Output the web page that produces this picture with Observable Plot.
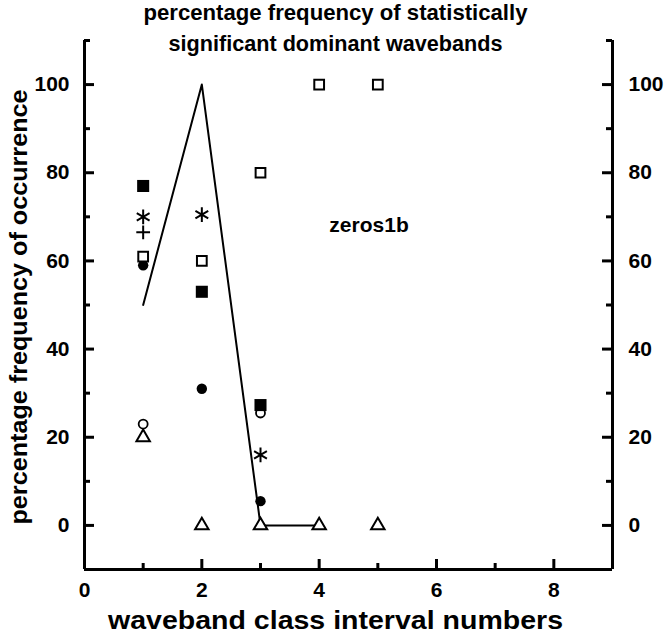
<!DOCTYPE html>
<html>
<head>
<meta charset="utf-8">
<script src="https://cdn.jsdelivr.net/npm/d3@7"></script>
<script src="https://cdn.jsdelivr.net/npm/@observablehq/plot@0.6"></script>
<style>
  html, body { margin: 0; padding: 0; background: #fff; }
</style>
</head>
<body>
<div id="chart"></div>
<script>
// ---- data ----
const titleLines = ["percentage frequency of statistically", "significant dominant wavebands"];
const xLabel = "waveband class interval numbers";
const yLabel = "percentage frequency of occurrence";
const annotation = "zeros1b";

const xMajorTicks = [2, 4, 6, 8];
const xTickLabels = [0, 2, 4, 6, 8];
const xMinorTicks = [1, 3, 5, 7];
const yMajorTicks = [0, 20, 40, 60, 80, 100];
const yMinorTicks = [-10, 10, 30, 50, 70, 90, 110];

const lineX = [1, 2, 3, 4];
const lineY = [50, 100, 0, 0];

const filledSquareX = [1, 2, 3];
const filledSquareY = [77, 53, 27.3];
const openSquareX = [1, 2, 3, 4, 5];
const openSquareY = [61, 60, 80, 100, 100];
const asteriskX = [1, 2, 3];
const asteriskY = [70, 70.5, 16];
const plusX = [1];
const plusY = [66.5];
const filledCircleX = [1, 2, 3];
const filledCircleY = [59, 31, 5.5];
const openCircleX = [1, 3];
const openCircleY = [23, 25.5];
const triangleX = [1, 2, 3, 4, 5];
const triangleY = [20, 0, 0, 0, 0];

// ---- layout ----
const W = 665, H = 637;
const mL = 84, mR = 53, mT = 40, mB = 68;
const fw = W - mL - mR, fh = H - mT - mB;
const major = 10, minor = 6;

const pts = (xs, ys) => xs.map((x, i) => ({x, y: ys[i]}));

const chart = Plot.plot({
  width: W,
  height: H,
  marginLeft: mL,
  marginRight: mR,
  marginTop: mT,
  marginBottom: mB,
  style: {fontFamily: "'Liberation Sans', Arial, sans-serif", fontWeight: "bold", fontSize: "21px", color: "#000", background: "#fff"},
  x: {domain: [0, 9], axis: null},
  y: {domain: [-10, 110], axis: null},
  marks: [
    // axis lines (left, right, bottom)
    Plot.ruleX([0, 9], {stroke: "#000", strokeWidth: 3}),
    Plot.ruleY([-10], {stroke: "#000", strokeWidth: 3}),
    // y ticks inward, left
    Plot.tickY(yMajorTicks, {y: d => d, stroke: "#000", strokeWidth: 3, insetRight: fw - major}),
    Plot.tickY(yMinorTicks, {y: d => d, stroke: "#000", strokeWidth: 3, insetRight: fw - minor}),
    // y ticks inward, right
    Plot.tickY(yMajorTicks, {y: d => d, stroke: "#000", strokeWidth: 3, insetLeft: fw - major}),
    Plot.tickY(yMinorTicks, {y: d => d, stroke: "#000", strokeWidth: 3, insetLeft: fw - minor}),
    // x ticks inward, bottom
    Plot.tickX(xMajorTicks, {x: d => d, stroke: "#000", strokeWidth: 3, insetTop: fh - major}),
    Plot.tickX(xMinorTicks, {x: d => d, stroke: "#000", strokeWidth: 3, insetTop: fh - minor}),
    // tick labels
    Plot.axisY(yMajorTicks, {anchor: "left", tickSize: 0, tickPadding: 15, label: null, fontSize: 21}),
    Plot.axisY(yMajorTicks, {anchor: "right", tickSize: 0, tickPadding: 16, label: null, fontSize: 21}),
    Plot.axisX(xTickLabels, {anchor: "bottom", tickSize: 0, tickPadding: 13, label: null, fontSize: 21}),
    // line
    Plot.line(pts(lineX, lineY), {x: "x", y: "y", stroke: "#000", strokeWidth: 2}),
    // markers
    Plot.dot(pts(triangleX, triangleY), {x: "x", y: "y", symbol: "triangle", r: 5, stroke: "#000", strokeWidth: 2, fill: "#fff"}),
    Plot.dot(pts(openCircleX, openCircleY), {x: "x", y: "y", symbol: "circle", r: 4.5, stroke: "#000", strokeWidth: 1.8, fill: "#fff"}),
    Plot.dot(pts(filledCircleX, filledCircleY), {x: "x", y: "y", symbol: "circle", r: 5.2, fill: "#000", stroke: "none"}),
    Plot.dot(pts(openSquareX, openSquareY), {x: "x", y: "y", symbol: "square", r: 5.5, stroke: "#000", strokeWidth: 2, fill: "#fff"}),
    Plot.dot(pts(filledSquareX, filledSquareY), {x: "x", y: "y", symbol: "square", r: 6.8, fill: "#000", stroke: "none"}),
    Plot.dot(pts(plusX, plusY), {x: "x", y: "y", symbol: "plus", r: 4.5, stroke: "#000", strokeWidth: 2}),
    Plot.dot(pts(asteriskX, asteriskY), {x: "x", y: "y", symbol: "asterisk", r: 7, stroke: "#000", strokeWidth: 2}),
    // annotation
    Plot.text([annotation], {x: 4.85, y: 68, text: d => d, fontSize: 21, fill: "#000"}),
    // titles
    Plot.text([titleLines[0]], {frameAnchor: "top", text: d => d, dy: -36, dx: -13, fontSize: 22, fill: "#000", lineAnchor: "top"}),
    Plot.text([titleLines[1]], {frameAnchor: "top", text: d => d, dy: -5, dx: -13, fontSize: 22, fill: "#000", lineAnchor: "top"}),
    // axis labels
    Plot.text([xLabel], {frameAnchor: "bottom", text: d => d, dy: 42, dx: -13, fontSize: 25, fill: "#000", lineAnchor: "top"}),
    Plot.text([yLabel], {frameAnchor: "left", text: d => d, textAnchor: "middle", dx: -65, dy: 2, rotate: -90, fontSize: 24, fill: "#000"})
  ]
});
document.getElementById("chart").appendChild(chart);

// fit long labels to the widths seen in the reference
const targetWidths = new Map([
  [titleLines[0], 384],
  [titleLines[1], 334],
  [xLabel, 455],
  [yLabel, 435]
]);
chart.querySelectorAll("text").forEach(t => {
  const w = targetWidths.get(t.textContent);
  if (w) {
    t.setAttribute("textLength", w);
    t.setAttribute("lengthAdjust", "spacingAndGlyphs");
  }
});
</script>
</body>
</html>
